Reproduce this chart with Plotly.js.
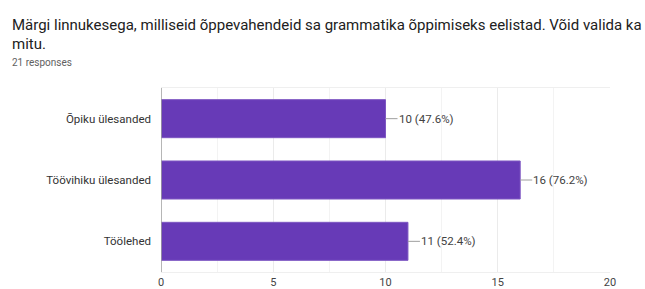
<!DOCTYPE html>
<html><head><meta charset="utf-8">
<script src="https://cdn.plot.ly/plotly-3.0.1.min.js"></script>
<style>html,body{margin:0;padding:0;background:#fff;}#c{width:645px;height:289px;}</style>
</head><body><div id="c"></div>
<script>
const categories = ["Õpiku ülesanded", "Töövihiku ülesanded", "Töölehed"];
const counts = [10, 16, 11];
const percents = ["47.6%", "76.2%", "52.4%"];
const xTicks = [0, 5, 10, 15, 20];
const titleLines = ["Märgi linnukesega, milliseid õppevahendeid sa grammatika õppimiseks eelistad. Võid valida ka", "mitu."];
const subtitleText = "21 responses";

const W = 645, H = 289;
const m = {l: 161, r: 35, t: 88, b: 17};
const pw = W - m.l - m.r, ph = H - m.t - m.b;
const px2x = p => (p - m.l) / pw;
const py2y = p => (H - m.b - p) / ph;
const FONT = 'Roboto, Arial, sans-serif';

const trace = {
  type: 'bar', orientation: 'h',
  x: counts, y: categories,
  marker: {color: '#673ab7', line: {color: '#7e57c2', width: 1}},
  width: 0.62, hoverinfo: 'none'
};

const annotations = categories.map((c, i) => ({
  x: counts[i], y: c, xref: 'x', yref: 'y',
  text: counts[i] + ' (' + percents[i] + ')',
  showarrow: true, arrowhead: 0, arrowwidth: 1, arrowcolor: '#9e9e9e',
  ax: 12, ay: 0, xanchor: 'left', borderpad: 0, standoff: 0,
  font: {family: FONT, size: 11.5, color: '#424242'}
}));
const titleCenters = [25, 44.5];
titleLines.forEach((t, i) => annotations.push({
  xref: 'paper', yref: 'paper', x: px2x(10), y: py2y(titleCenters[i]), xanchor: 'left', yanchor: 'middle',
  text: t, showarrow: false, align: 'left',
  font: {family: FONT, size: 15, color: '#212121'}
}));
annotations.push({
  xref: 'paper', yref: 'paper', x: px2x(10), y: py2y(63), xanchor: 'left', yanchor: 'middle',
  text: subtitleText, showarrow: false, align: 'left',
  font: {family: FONT, size: 10, color: '#616161'}
});

const layout = {
  width: W, height: H, margin: m,
  paper_bgcolor: '#fff', plot_bgcolor: '#fff',
  showlegend: false,
  xaxis: {
    range: [0, 20], tickvals: xTicks, ticktext: xTicks.map(String),
    showgrid: true, gridcolor: '#ebebeb', gridwidth: 1,
    minor: {dtick: 2.5, tick0: 0, showgrid: true, gridcolor: '#f3f3f3', gridwidth: 1},
    zeroline: false, showline: true, mirror: true, linecolor: '#efefef', linewidth: 1,
    ticks: '', ticklen: 0, ticklabelstandoff: 0,
    tickfont: {family: FONT, size: 11, color: '#444'},
    fixedrange: true
  },
  yaxis: {
    autorange: 'reversed', type: 'category',
    showgrid: false, zeroline: false,
    showline: false,
    ticks: '', ticklabelstandoff: 9,
    tickfont: {family: FONT, size: 11.5, color: '#333'},
    fixedrange: true
  },
  shapes: [{
    type: 'line', xref: 'x', yref: 'paper', x0: 0, x1: 0, y0: 0, y1: 1,
    line: {color: '#9e9e9e', width: 1.5}
  }],
  annotations: annotations
};

Plotly.newPlot('c', [trace], layout, {displayModeBar: false, staticPlot: true});
</script></body></html>
